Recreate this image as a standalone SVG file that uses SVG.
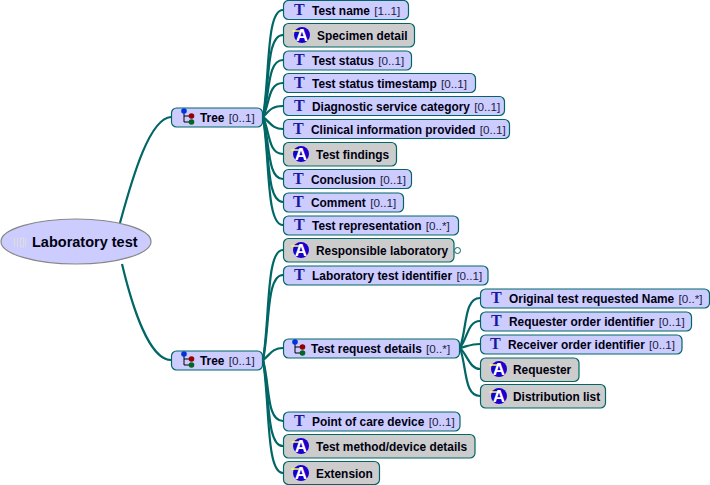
<svg xmlns="http://www.w3.org/2000/svg" width="710" height="485" viewBox="0 0 710 485">
<style>
text{font-family:"Liberation Sans",Arial,sans-serif;font-size:11.9px;font-weight:bold;fill:#000010}
.c{font-weight:normal;font-size:11.7px;fill:#222244}
.e{fill:#ccccff;stroke:#006666;stroke-width:1.2}
.g{fill:#cccccc;stroke:#006666;stroke-width:1.2}
.t{font-family:"Liberation Serif",serif;font-size:16px;fill:#1a1aa0}
.a{font-size:17px;fill:#fff;text-anchor:middle}
#links path{fill:none;stroke:#006666;stroke-width:2.2}
</style>
<defs>
<g id="tree"><path d="M0 -5V6H7M0 0H7" fill="none" stroke="#000" stroke-width="1"/><circle cx="0" cy="-5" r="2.800" fill="#0033dd"/><circle cx="7.500" cy="0" r="2.800" fill="#990000"/><circle cx="7.500" cy="6" r="2.800" fill="#006622"/></g>
<g id="arch"><circle cx="0" cy="0" r="8" fill="#1a00cc"/><text class="a" x="0" y="6">A</text><path d="M-9.500 -4H-2" stroke="#ffff66" stroke-width="1.500"/></g>
</defs>
<g id="links">
<path d="M120 223C133 175 150 118 171 117"/>
<path d="M122 264C133 310 150 360 171 360"/>
<path d="M263 117C270 74 266 10 283 10"/>
<path d="M263 117C270 84 266 35 283 35"/>
<path d="M263 117C270 94 267 60 283 60"/>
<path d="M263 117C270 103 268 83 283 83"/>
<path d="M263 117C270 110 272 106 283 106"/>
<path d="M263 117C270 122 272 129 283 129"/>
<path d="M263 117C270 132 268 154 283 154"/>
<path d="M263 117C270 142 267 179 283 179"/>
<path d="M263 117C270 151 266 202 283 202"/>
<path d="M263 117C270 160 266 225 283 225"/>
<path d="M263 360C270 316 266 250 283 250"/>
<path d="M263 360C270 326 266 275 283 275"/>
<path d="M263 360C270 355 272 348 283 348"/>
<path d="M263 360C270 384 266 421 283 421"/>
<path d="M263 360C270 394 266 446 283 446"/>
<path d="M263 360C270 405 266 473 283 473"/>
<path d="M460 348C467 328 464 298 480 298"/>
<path d="M460 348C468 337 468 321 480 321"/>
<path d="M460 348C468 346 472 344 480 344"/>
<path d="M460 348C468 356 470 369 480 369"/>
<path d="M460 348C467 368 464 396 480 396"/>
</g>
<g id="root"><ellipse cx="76" cy="241.500" rx="75" ry="22.500" fill="#ccccff" stroke="#888888" stroke-width="1.200"/><path d="M14.500 238V247M17.500 238V247M20.500 238H23.500V247H20.500ZM25.500 238V247" fill="none" stroke="#dddddd"/><text x="32" y="247" style="font-size:14.500px">Laboratory test</text></g>
<g id="tree1"><rect class="e" x="171.500" y="108" width="91" height="19" rx="5"/><use href="#tree" x="184" y="116"/><text x="200" y="122">Tree <tspan class="c" dx="1">[0..1]</tspan></text></g>
<g id="tree2"><rect class="e" x="171.500" y="351" width="91" height="19" rx="5"/><use href="#tree" x="184" y="359"/><text x="200" y="365">Tree <tspan class="c" dx="1">[0..1]</tspan></text></g>
<g id="n1"><rect class="e" x="283.500" y="0.500" width="125" height="19" rx="5"/><text class="t" x="294" y="15">T</text><text x="312" y="15">Test name <tspan class="c" dx="1">[1..1]</tspan></text></g>
<g id="n2"><rect class="g" x="283.500" y="23.500" width="131" height="23.500" rx="5"/><use href="#arch" x="302" y="35"/><text x="317" y="40">Specimen detail</text></g>
<g id="n3"><rect class="e" x="283.500" y="51" width="128" height="19" rx="5"/><text class="t" x="294" y="65">T</text><text x="312" y="65">Test status <tspan class="c" dx="1">[0..1]</tspan></text></g>
<g id="n4"><rect class="e" x="283.500" y="73.500" width="192" height="19" rx="5"/><text class="t" x="294" y="88">T</text><text x="312" y="88">Test status timestamp <tspan class="c" dx="1">[0..1]</tspan></text></g>
<g id="n5"><rect class="e" x="283.500" y="96.500" width="221" height="19" rx="5"/><text class="t" x="294" y="111">T</text><text x="312" y="111">Diagnostic service category <tspan class="c" dx="1">[0..1]</tspan></text></g>
<g id="n6"><rect class="e" x="283.500" y="119.500" width="226" height="19" rx="5"/><text class="t" x="293" y="134">T</text><text x="311" y="134">Clinical information provided <tspan class="c" dx="1">[0..1]</tspan></text></g>
<g id="n7"><rect class="g" x="283.500" y="142.500" width="113" height="23.500" rx="5"/><use href="#arch" x="301" y="154"/><text x="316" y="159">Test findings</text></g>
<g id="n8"><rect class="e" x="283.500" y="169.500" width="128" height="19" rx="5"/><text class="t" x="293" y="184">T</text><text x="311" y="184">Conclusion <tspan class="c" dx="1">[0..1]</tspan></text></g>
<g id="n9"><rect class="e" x="283.500" y="193" width="120" height="19" rx="5"/><text class="t" x="293" y="207">T</text><text x="311" y="207">Comment <tspan class="c" dx="1">[0..1]</tspan></text></g>
<g id="n10"><rect class="e" x="283.500" y="216" width="175" height="19" rx="5"/><text class="t" x="294" y="230">T</text><text x="312" y="230">Test representation <tspan class="c" dx="1">[0..*]</tspan></text></g>
<g id="n11"><rect class="g" x="283.500" y="238.500" width="170.500" height="23.500" rx="5"/><use href="#arch" x="301" y="250"/><text x="316" y="255">Responsible laboratory</text><circle cx="457.500" cy="250.500" r="3" fill="#fff" stroke="#006666"/></g>
<g id="n12"><rect class="e" x="283.500" y="266" width="204.500" height="19" rx="5"/><text class="t" x="294" y="280">T</text><text x="312" y="280">Laboratory test identifier <tspan class="c" dx="1">[0..1]</tspan></text></g>
<g id="n13"><rect class="e" x="283.500" y="339" width="176" height="19" rx="5"/><use href="#tree" x="295" y="347"/><text x="311" y="353">Test request details <tspan class="c" dx="1">[0..*]</tspan></text></g>
<g id="n14"><rect class="e" x="480.500" y="289" width="229" height="19" rx="5"/><text class="t" x="491" y="303">T</text><text x="509" y="303">Original test requested Name <tspan class="c" dx="1">[0..*]</tspan></text></g>
<g id="n15"><rect class="e" x="480.500" y="312" width="211" height="19" rx="5"/><text class="t" x="491" y="326">T</text><text x="509" y="326">Requester order identifier <tspan class="c" dx="1">[0..1]</tspan></text></g>
<g id="n16"><rect class="e" x="480.500" y="335" width="201.500" height="19" rx="5"/><text class="t" x="490" y="349">T</text><text x="508" y="349">Receiver order identifier <tspan class="c" dx="1">[0..1]</tspan></text></g>
<g id="n17"><rect class="g" x="480.500" y="358" width="98.500" height="23.500" rx="5"/><use href="#arch" x="499" y="369"/><text x="513" y="374">Requester</text></g>
<g id="n18"><rect class="g" x="480.500" y="384.500" width="125" height="23.500" rx="5"/><use href="#arch" x="499" y="396"/><text x="513" y="401">Distribution list</text></g>
<g id="n19"><rect class="e" x="283.500" y="412" width="176.500" height="19" rx="5"/><text class="t" x="294" y="426">T</text><text x="312" y="426">Point of care device <tspan class="c" dx="1">[0..1]</tspan></text></g>
<g id="n20"><rect class="g" x="283.500" y="434.500" width="191.500" height="23.500" rx="5"/><use href="#arch" x="301" y="446"/><text x="316" y="451">Test method/device details</text></g>
<g id="n21"><rect class="g" x="283.500" y="461.500" width="96" height="23" rx="5"/><use href="#arch" x="301" y="473"/><text x="316" y="478">Extension</text></g>
</svg>
